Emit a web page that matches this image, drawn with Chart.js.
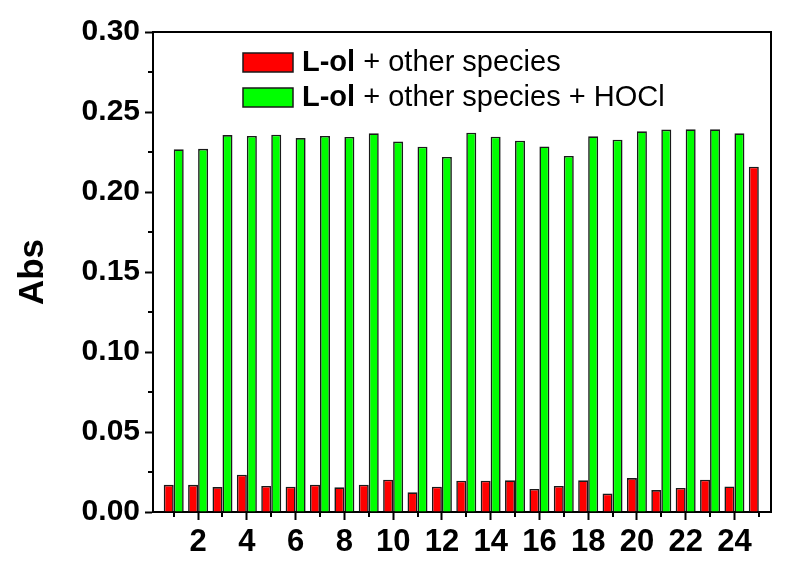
<!DOCTYPE html>
<html>
<head>
<meta charset="utf-8">
<script src="https://cdn.jsdelivr.net/npm/chart.js@4.4.1/dist/chart.umd.min.js"></script>
<style>
    html, body { margin: 0; padding: 0; background: #fff; }
    #wrap { width: 790px; height: 572px; }
</style>
</head>
<body>
<div id="wrap"><canvas id="grafico" width="790" height="572"></canvas></div>
<script>
// sample numbers on the x axis
const amostras = [1, 2, 3, 4, 5, 6, 7, 8, 9, 10, 11, 12, 13, 14, 15, 16, 17, 18, 19, 20, 21, 22, 23, 24, 25];

// L-ol + other species
const absSemHOCl = [0.017, 0.017, 0.0156, 0.0233, 0.0163, 0.0158, 0.0171, 0.0154, 0.0171, 0.0202,
    0.0123, 0.0158, 0.0196, 0.0196, 0.0198, 0.0144, 0.0163, 0.0198, 0.0115, 0.0212,
    0.0137, 0.015, 0.0202, 0.016, 0.2158];

// L-ol + other species + HOCl (no bar at 25)
const absComHOCl = [0.2267, 0.227, 0.2356, 0.235, 0.2358, 0.2337, 0.235, 0.2344, 0.2367, 0.2315,
    0.2283, 0.2219, 0.2371, 0.2346, 0.2321, 0.2285, 0.2225, 0.2348, 0.2327, 0.2379,
    0.239, 0.2392, 0.2392, 0.2367];

const legendaNegrito = ['L-ol', 'L-ol'];
const legendaResto = [' + other species', ' + other species + HOCl'];

const ticksY = [0, 0.05, 0.10, 0.15, 0.20, 0.25, 0.30];

const fonte = '"Liberation Sans", Arial, sans-serif';

// minor ticks, box lines and the two-style legend
const extras = {
    id: 'extras',
    afterDraw(chart) {
        const ctx = chart.ctx;
        const area = chart.chartArea;
        const sx = chart.scales.x;
        const sy = chart.scales.y;
        ctx.save();
        ctx.strokeStyle = '#000';
        ctx.lineWidth = 2;
        // top and right frame
        ctx.beginPath();
        ctx.moveTo(area.left, area.top);
        ctx.lineTo(area.right, area.top);
        ctx.lineTo(area.right, area.bottom);
        ctx.stroke();

        // minor ticks
        ctx.beginPath();
        amostras.forEach(v => {
            if (v % 2 === 1) {
                const px = Math.round(sx.getPixelForValue(v));
                ctx.moveTo(px, area.bottom);
                ctx.lineTo(px, area.bottom + 5);
            }
        });
        for (let i = 0; i < ticksY.length - 1; i++) {
            const py = Math.round(sy.getPixelForValue((ticksY[i] + ticksY[i + 1]) / 2));
            ctx.moveTo(area.left, py);
            ctx.lineTo(area.left - 5, py);
        }
        ctx.stroke();

        // legend
        const ds = chart.data.datasets;
        ds.forEach((d, i) => {
            const y = 53 + i * 35;
            ctx.fillStyle = d.backgroundColor;
            ctx.fillRect(243, y, 50, 19);
            ctx.lineWidth = 1.5;
            ctx.strokeStyle = '#1a1a1a';
            ctx.strokeRect(243, y, 50, 19);
            ctx.fillStyle = '#000';
            ctx.textBaseline = 'middle';
            ctx.textAlign = 'left';
            ctx.font = 'bold 29px ' + fonte;
            ctx.fillText(legendaNegrito[i], 302, y + 10);
            const w = ctx.measureText(legendaNegrito[i]).width;
            ctx.font = '29px ' + fonte;
            ctx.fillText(legendaResto[i], 302 + w, y + 10);
        });
        ctx.restore();
    }
};

const ctx = document.getElementById('grafico').getContext('2d');
new Chart(ctx, {
    type: 'bar',
    data: {
        datasets: [{
            label: legendaNegrito[0] + legendaResto[0],
            data: absSemHOCl.map((v, i) => ({ x: amostras[i], y: v })),
            backgroundColor: '#ff0000',
            borderColor: '#1a1a1a',
            borderWidth: 1.6,
            categoryPercentage: 0.82,
            barPercentage: 1
        }, {
            label: legendaNegrito[1] + legendaResto[1],
            data: absComHOCl.map((v, i) => ({ x: amostras[i], y: v })),
            backgroundColor: '#00ff00',
            borderColor: '#1a1a1a',
            borderWidth: 1.6,
            categoryPercentage: 0.82,
            barPercentage: 1
        }]
    },
    options: {
        responsive: false,
        animation: false,
        layout: { padding: { top: 32, right: 19, left: 0, bottom: 0 } },
        plugins: {
            legend: { display: false },
            tooltip: { enabled: false }
        },
        scales: {
            x: {
                type: 'linear',
                min: 0.15,
                max: 25.5,
                offset: false,
                grid: { offset: false, drawOnChartArea: false, drawTicks: true, tickLength: 8, tickColor: '#000', tickWidth: 2 },
                border: { display: true, color: '#000', width: 2 },
                ticks: {
                    stepSize: 2,
                    includeBounds: false,
                    color: '#000',
                    padding: 4,
                    maxRotation: 0,
                    autoSkip: false,
                    font: { family: fonte, size: 31, weight: 'bold' }
                },
                afterFit: s => { s.height = 60; }
            },
            y: {
                min: 0,
                max: 0.3,
                grid: { drawOnChartArea: false, drawTicks: true, tickLength: 8, tickColor: '#000', tickWidth: 2 },
                border: { display: true, color: '#000', width: 2 },
                ticks: {
                    stepSize: 0.05,
                    color: '#000',
                    padding: 5,
                    font: { family: fonte, size: 30, weight: 'bold' },
                    callback: v => v.toFixed(2)
                },
                title: {
                    display: true,
                    text: 'Abs',
                    color: '#000',
                    padding: { top: 12, bottom: 0 },
                    font: { family: fonte, size: 35, weight: 'bold' }
                },
                afterFit: s => { s.width = 153; }
            }
        }
    },
    plugins: [extras]
});
</script>
</body>
</html>
